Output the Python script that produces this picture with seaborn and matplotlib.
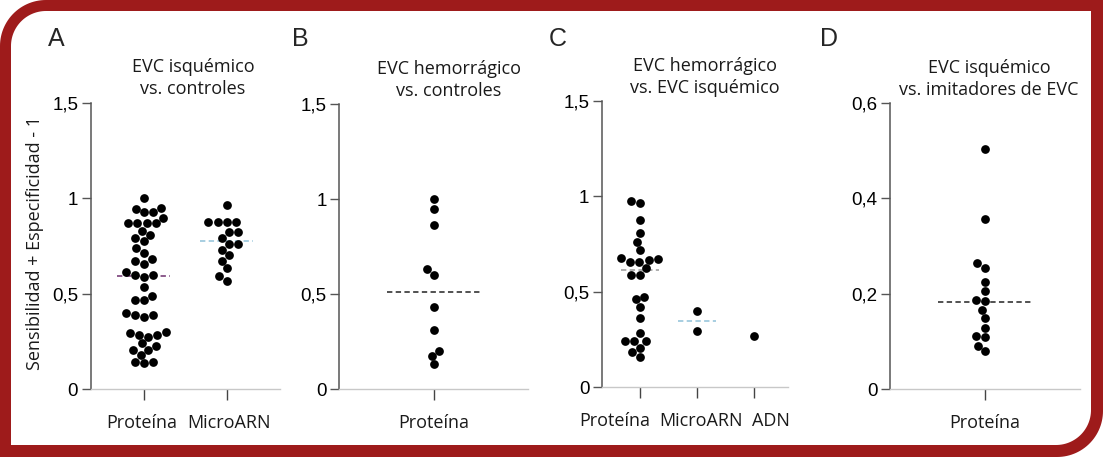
import numpy as np
import pandas as pd
import matplotlib.pyplot as plt
import seaborn as sns
from matplotlib.patches import Polygon
from matplotlib.ticker import FuncFormatter
from matplotlib.transforms import ScaledTranslation

sns.set_style('ticks')
plt.rcParams['font.family'] = ['Open Sans', 'DejaVu Sans']

# valores
a_proteina = [1.0, 0.948, 0.945, 0.925, 0.925, 0.895, 0.869, 0.869, 0.869, 0.869,
              0.83, 0.808, 0.79, 0.773, 0.738, 0.712, 0.68, 0.673, 0.655, 0.612,
              0.598, 0.598, 0.586, 0.533, 0.488, 0.467, 0.467, 0.397, 0.388, 0.388,
              0.376, 0.30, 0.292, 0.283, 0.283, 0.274, 0.24, 0.226, 0.205, 0.205,
              0.178, 0.143, 0.143, 0.135]
a_microarn = [0.965, 0.874, 0.874, 0.874, 0.874, 0.82, 0.82, 0.79, 0.76, 0.76,
              0.729, 0.703, 0.673, 0.633, 0.593, 0.568]
b_proteina = [1.0, 0.947, 0.863, 0.63, 0.6, 0.43, 0.31, 0.2, 0.175, 0.13]
c_proteina = [0.976, 0.967, 0.875, 0.81, 0.761, 0.718, 0.674, 0.669, 0.665, 0.657,
              0.653, 0.622, 0.585, 0.585, 0.474, 0.46, 0.42, 0.36, 0.282, 0.239,
              0.239, 0.239, 0.204, 0.181, 0.157]
c_microarn = [0.40, 0.296]
c_adn = [0.265]
d_proteina = [0.504, 0.357, 0.264, 0.254, 0.224, 0.205, 0.187, 0.184, 0.165, 0.148,
              0.128, 0.112, 0.109, 0.091, 0.079]

# líneas de resumen (mediana) por grupo
a_lineas = [0.59, 0.778]
b_lineas = [0.512]
c_lineas = [0.613, 0.348]
d_lineas = [0.183]

titulos = ['EVC isquémico\nvs. controles', 'EVC hemorrágico\nvs. controles',
           'EVC hemorrágico\nvs. EVC isquémico', 'EVC isquémico\nvs. imitadores de EVC']
letras = ['A', 'B', 'C', 'D']


def tabla(grupos):
    filas = []
    for nombre, vals in grupos:
        for v in vals:
            filas.append({'tipo': nombre, 'valor': v})
    return pd.DataFrame(filas)


paneles = [
    dict(df=tabla([('Proteína', a_proteina), ('MicroARN', a_microarn)]),
         order=['Proteína', 'MicroARN'], lineas=a_lineas,
         colores=['#6e2f6e', '#8fc1d8'], media=0.32,
         pos=[90.7, 102.7, 280, 389], xlim=(-0.64, 1.64), ylim=1.5,
         yt=[0, 0.5, 1, 1.5], tx=193, lx=48, desp=[-2, 2]),
    dict(df=tabla([('Proteína', b_proteina)]),
         order=['Proteína'], lineas=b_lineas, colores=['#222222'], media=0.245,
         pos=[339, 104, 528, 389], xlim=(-0.5, 0.5), ylim=1.5,
         yt=[0, 0.5, 1, 1.5], tx=449, lx=292, desp=[0]),
    dict(df=tabla([('Proteína', c_proteina), ('MicroARN', c_microarn), ('ADN', c_adn)]),
         order=['Proteína', 'MicroARN', 'ADN'], lineas=c_lineas,
         colores=['#999999', '#8fc1d8'], media=0.33,
         pos=[602, 101, 788, 387], xlim=(-0.67, 2.6), ylim=1.5,
         yt=[0, 0.5, 1, 1.5], tx=705, lx=549, desp=[-25, 4, 17]),
    dict(df=tabla([('Proteína', d_proteina)]),
         order=['Proteína'], lineas=d_lineas, colores=['#222222'], media=0.25,
         pos=[890, 103, 1080, 389], xlim=(-0.5, 0.5), ylim=0.6,
         yt=[0, 0.2, 0.4, 0.6], tx=989, lx=820, desp=[0]),
]

W, H = 1103, 457
fig = plt.figure(figsize=(W / 100, H / 100), dpi=100)

# marco rojo con esquinas redondeadas (arriba-izq y abajo-der)
bg = fig.add_axes([0, 0, 1, 1], zorder=-5)
bg.set_xlim(0, W)
bg.set_ylim(H, 0)
bg.axis('off')


def marco(x0, y0, x1, y1, r):
    t = np.linspace(0, np.pi / 2, 30)
    tl = np.column_stack([x0 + r - r * np.cos(t), y0 + r - r * np.sin(t)])
    br = np.column_stack([x1 - r + r * np.cos(t), y1 - r + r * np.sin(t)])
    pts = np.vstack([tl, [[x1, y0]], br, [[x0, y1]]])
    return pts


bg.add_patch(Polygon(marco(0, 0, W, H, 46), closed=True, color='#9e1b1b', lw=0))
bg.add_patch(Polygon(marco(11, 11, 1091, 445, 35), closed=True, color='white', lw=0))

fmt = FuncFormatter(lambda v, p: ('%g' % v).replace('.', ','))

for i, p in enumerate(paneles):
    x0, y0, x1, y1 = p['pos']
    ax = fig.add_axes([x0 / W, 1 - y1 / H, (x1 - x0) / W, (y1 - y0) / H])
    ax.set_facecolor('none')
    sns.swarmplot(data=p['df'], x='tipo', y='valor', order=p['order'], color='black',
                  size=6.3, linewidth=0, ax=ax, warn_thresh=1)
    for j, (yv, col) in enumerate(zip(p['lineas'], p['colores'])):
        ax.hlines(yv, j - p['media'], j + p['media'], colors=col, lw=1.1,
                  linestyles=(0, (3.5, 2.2)), zorder=1)
    ax.set_xlim(*p['xlim'])
    ax.set_ylim(0, p['ylim'])
    ax.set_yticks(p['yt'])
    ax.yaxis.set_major_formatter(fmt)
    ax.set_xlabel('')
    ax.set_ylabel('')
    sns.despine(ax=ax)
    ax.spines['left'].set_color('#555555')
    ax.spines['left'].set_linewidth(1.1)
    ax.spines['bottom'].set_color('#c8c8c8')
    ax.spines['bottom'].set_linewidth(1.0)
    ax.tick_params(axis='y', length=6.5, width=1, color='#555555', pad=2.5,
                   labelsize=13.5, labelcolor='black')
    ax.tick_params(axis='x', length=8, width=1, color='#444444', pad=10,
                   labelsize=13, labelcolor='#1a1a1a')
    for lab in ax.get_yticklabels():
        lab.set_family(['Liberation Sans', 'DejaVu Sans'])
    for lab, dx in zip(ax.get_xticklabels(), p['desp']):
        lab.set_transform(lab.get_transform() + ScaledTranslation(dx / 100, 0, fig.dpi_scale_trans))
    ax.set_title(titulos[i], fontsize=13, color='#1a1a1a', linespacing=1.28,
                 x=(p['tx'] - x0) / (x1 - x0), pad=6)
    fig.text(p['lx'] / W, 1 - 46 / H, letras[i], fontsize=18,
             family=['Liberation Sans', 'DejaVu Sans'], ha='left', va='baseline')

fig.text(35 / W, 1 - 243 / H, 'Sensibilidad + Especificidad - 1', rotation=90,
         fontsize=13, color='#1a1a1a', ha='center', va='center')

fig.savefig('out.png', dpi=100)
